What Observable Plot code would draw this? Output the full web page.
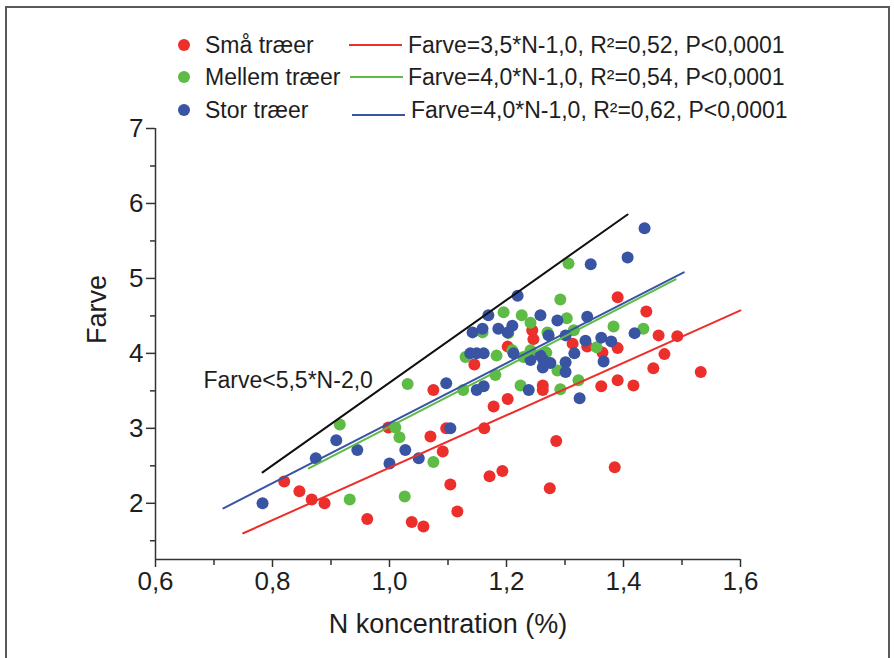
<!DOCTYPE html>
<html>
<head>
<meta charset="utf-8">
<script src="https://cdn.jsdelivr.net/npm/d3@7"></script>
<script src="https://cdn.jsdelivr.net/npm/@observablehq/plot@0.6"></script>
<style>
  html, body { margin: 0; padding: 0; background: #fff; }
  #wrap { position: relative; width: 894px; height: 658px; overflow: hidden; font-family: "Liberation Sans", Arial, sans-serif; }
  #frame { position: absolute; left: 5px; top: 6px; width: 885px; height: 720px; border: 2px solid #595959; box-sizing: border-box; }
  #chart { position: absolute; left: 0; top: 0; }
  #legend { position: absolute; left: 0; top: 0; }
</style>
</head>
<body>
<div id="wrap"><div id="frame"></div><div id="chart"></div><div id="legend"></div></div>
<script>
// ---- categories / legend text ----
const seriesNames = ["Små træer", "Mellem træer", "Stor træer"];
const seriesColors = ["#ec2f2b", "#5dbb46", "#3a54a4"];
const fitLabels = [
  "Farve=3,5*N-1,0, R²=0,52, P<0,0001",
  "Farve=4,0*N-1,0, R²=0,54, P<0,0001",
  "Farve=4,0*N-1,0, R²=0,62, P<0,0001"
];
const limitLabel = "Farve<5,5*N-2,0";

// ---- ticks ----
const xTicks = [0.6, 0.8, 1.0, 1.2, 1.4, 1.6];
const xMinorTicks = [0.7, 0.9, 1.1, 1.3, 1.5];
const yTicks = [2, 3, 4, 5, 6, 7];
const yMinorTicks = [1.5, 2.5, 3.5, 4.5, 5.5, 6.5];

// ---- points: Små træer ----
const smaN = [0.82,0.846,0.867,0.889,0.962,1.038,1.058,0.998,1.07,1.075,1.091,1.097,1.104,1.116,1.145,1.162,1.171,1.178,1.193,1.202,1.202,1.244,1.246,1.262,1.262,1.274,1.285,1.313,1.338,1.364,1.39,1.362,1.39,1.417,1.385,1.39,1.439,1.46,1.492,1.47,1.451,1.532];
const smaFarve = [2.29,2.16,2.05,2.0,1.79,1.75,1.69,3.01,2.89,3.51,2.69,3.0,2.25,1.89,3.85,3.0,2.36,3.29,2.43,3.39,4.09,4.31,4.19,3.57,3.51,2.2,2.83,4.13,4.09,4.01,4.07,3.56,3.64,3.57,2.48,4.75,4.56,4.24,4.23,3.99,3.8,3.75];

// ---- points: Mellem træer ----
const mellemN = [0.915,0.932,1.026,1.01,1.017,1.031,1.075,1.126,1.181,1.183,1.13,1.159,1.195,1.226,1.241,1.203,1.21,1.224,1.292,1.287,1.229,1.268,1.27,1.303,1.292,1.306,1.315,1.354,1.383,1.434,1.323,1.241];
const mellemFarve = [3.05,2.05,2.09,3.01,2.88,3.59,2.55,3.51,3.71,3.97,3.95,4.28,4.55,4.51,4.41,4.27,4.04,3.57,3.52,3.77,3.95,4.01,4.28,4.47,4.72,5.2,4.31,4.08,4.36,4.33,3.64,4.04];

// ---- points: Stor træer ----
const storN = [0.783,0.874,0.909,0.945,1.0,1.027,1.05,1.104,1.097,1.149,1.161,1.138,1.149,1.161,1.142,1.159,1.169,1.186,1.202,1.21,1.219,1.212,1.258,1.287,1.272,1.301,1.258,1.263,1.275,1.262,1.301,1.301,1.238,1.325,1.316,1.335,1.338,1.362,1.379,1.366,1.419,1.344,1.407,1.436,1.241];
const storFarve = [2.0,2.6,2.84,2.71,2.53,2.71,2.6,3.0,3.6,3.51,3.56,4.0,4.0,4.0,4.28,4.33,4.51,4.33,4.28,4.37,4.77,4.0,4.51,4.44,4.24,4.24,3.97,3.91,3.87,3.81,3.88,3.75,3.51,3.4,4.0,4.17,4.49,4.21,4.16,3.89,4.27,5.19,5.28,5.67,3.91];

// ---- fitted lines (end points) ----
const fitStartN = [0.75, 0.862, 0.716];
const fitStartFarve = [1.60, 2.467, 1.933];
const fitEndN = [1.6, 1.489, 1.503];
const fitEndFarve = [4.573, 4.987, 5.08];

// ---- limit line Farve<5,5*N-2,0 ----
const limitN = [0.783, 1.407];
const limitFarve = [2.413, 5.853];
const limitLabelN = 0.682;
const limitLabelFarve = 3.64;

// ---- build tables ----
const pointSets = [[smaN, smaFarve], [mellemN, mellemFarve], [storN, storFarve]];
const points = [];
pointSets.forEach(([ns, fs], i) => ns.forEach((n, j) => points.push({series: seriesNames[i], N: n, Farve: fs[j]})));
const fitLines = [];
seriesNames.forEach((s, i) => {
  fitLines.push({series: s, N: fitStartN[i], Farve: fitStartFarve[i]});
  fitLines.push({series: s, N: fitEndN[i], Farve: fitEndFarve[i]});
});
const limitLine = limitN.map((n, i) => ({N: n, Farve: limitFarve[i]}));
const annotations = [{N: limitLabelN, Farve: limitLabelFarve, label: limitLabel}];

const fmt = d => d.toFixed(1).replace(".", ",");
const FONT = "Liberation Sans, Arial, sans-serif";
const axisColor = "#333";
const textColor = "#1e1e1e";

const chart = Plot.plot({
  width: 894,
  height: 658,
  marginLeft: 155,
  marginRight: 154,
  marginTop: 128,
  marginBottom: 99,
  style: {fontFamily: FONT, background: "transparent", color: textColor},
  x: {domain: [0.6, 1.6]},
  y: {domain: [1.25, 7]},
  color: {domain: seriesNames, range: seriesColors},
  marks: [
    Plot.axisX({ticks: xTicks, tickFormat: fmt, tickSize: 8, tickPadding: 4, fontSize: 26, stroke: axisColor, strokeWidth: 1.5, label: null, color: textColor}),
    Plot.axisX({ticks: xMinorTicks, tickFormat: () => "", tickSize: 6, stroke: axisColor, strokeWidth: 1.5, label: null}),
    Plot.axisY({ticks: yTicks, tickFormat: d => String(d), tickSize: 9, tickPadding: 3, fontSize: 26, stroke: axisColor, strokeWidth: 1.5, label: null, color: textColor}),
    Plot.axisY({ticks: yMinorTicks, tickFormat: () => "", tickSize: 5, stroke: axisColor, strokeWidth: 1.5, label: null}),
    Plot.ruleX([0.6], {stroke: axisColor, strokeWidth: 1.5}),
    Plot.ruleY([1.25], {stroke: axisColor, strokeWidth: 1.5}),
    Plot.dot(points, {x: "N", y: "Farve", fill: "series", r: 6, stroke: null}),
    Plot.line(fitLines, {x: "N", y: "Farve", z: "series", stroke: "series", strokeWidth: 2}),
    Plot.line(limitLine, {x: "N", y: "Farve", stroke: "#111", strokeWidth: 2}),
    Plot.text(annotations, {x: "N", y: "Farve", text: "label", textAnchor: "start", fontSize: 23, fill: textColor}),
    Plot.text(["N koncentration (%)"], {text: d => d, frameAnchor: "bottom", dy: 73, fontSize: 27, fill: textColor}),
    Plot.text(["Farve"], {text: d => d, frameAnchor: "left", dx: -58, rotate: -90, fontSize: 27, fill: textColor})
  ]
});
document.getElementById("chart").appendChild(chart);

// ---- legend ----
const rowY = [45, 77, 110];
const lineDY = [0, 0, 5];
const lineX0 = [349, 350, 352];
const textX = [408, 408, 411];
const leg = d3.select("#legend").append("svg").attr("width", 894).attr("height", 130)
  .style("font-family", FONT);
seriesNames.forEach((s, i) => {
  const g = leg.append("g");
  g.append("circle").attr("cx", 184).attr("cy", rowY[i]).attr("r", 6).attr("fill", seriesColors[i]);
  g.append("text").attr("x", 205).attr("y", rowY[i]).attr("dy", "0.35em").attr("font-size", 23).attr("fill", textColor).text(s);
  g.append("line").attr("x1", lineX0[i]).attr("x2", lineX0[i] + 53).attr("y1", rowY[i] + lineDY[i]).attr("y2", rowY[i] + lineDY[i])
    .attr("stroke", seriesColors[i]).attr("stroke-width", 2);
  g.append("text").attr("x", textX[i]).attr("y", rowY[i]).attr("dy", "0.35em").attr("font-size", 23).attr("fill", textColor).text(fitLabels[i]);
});
</script>
</body>
</html>
